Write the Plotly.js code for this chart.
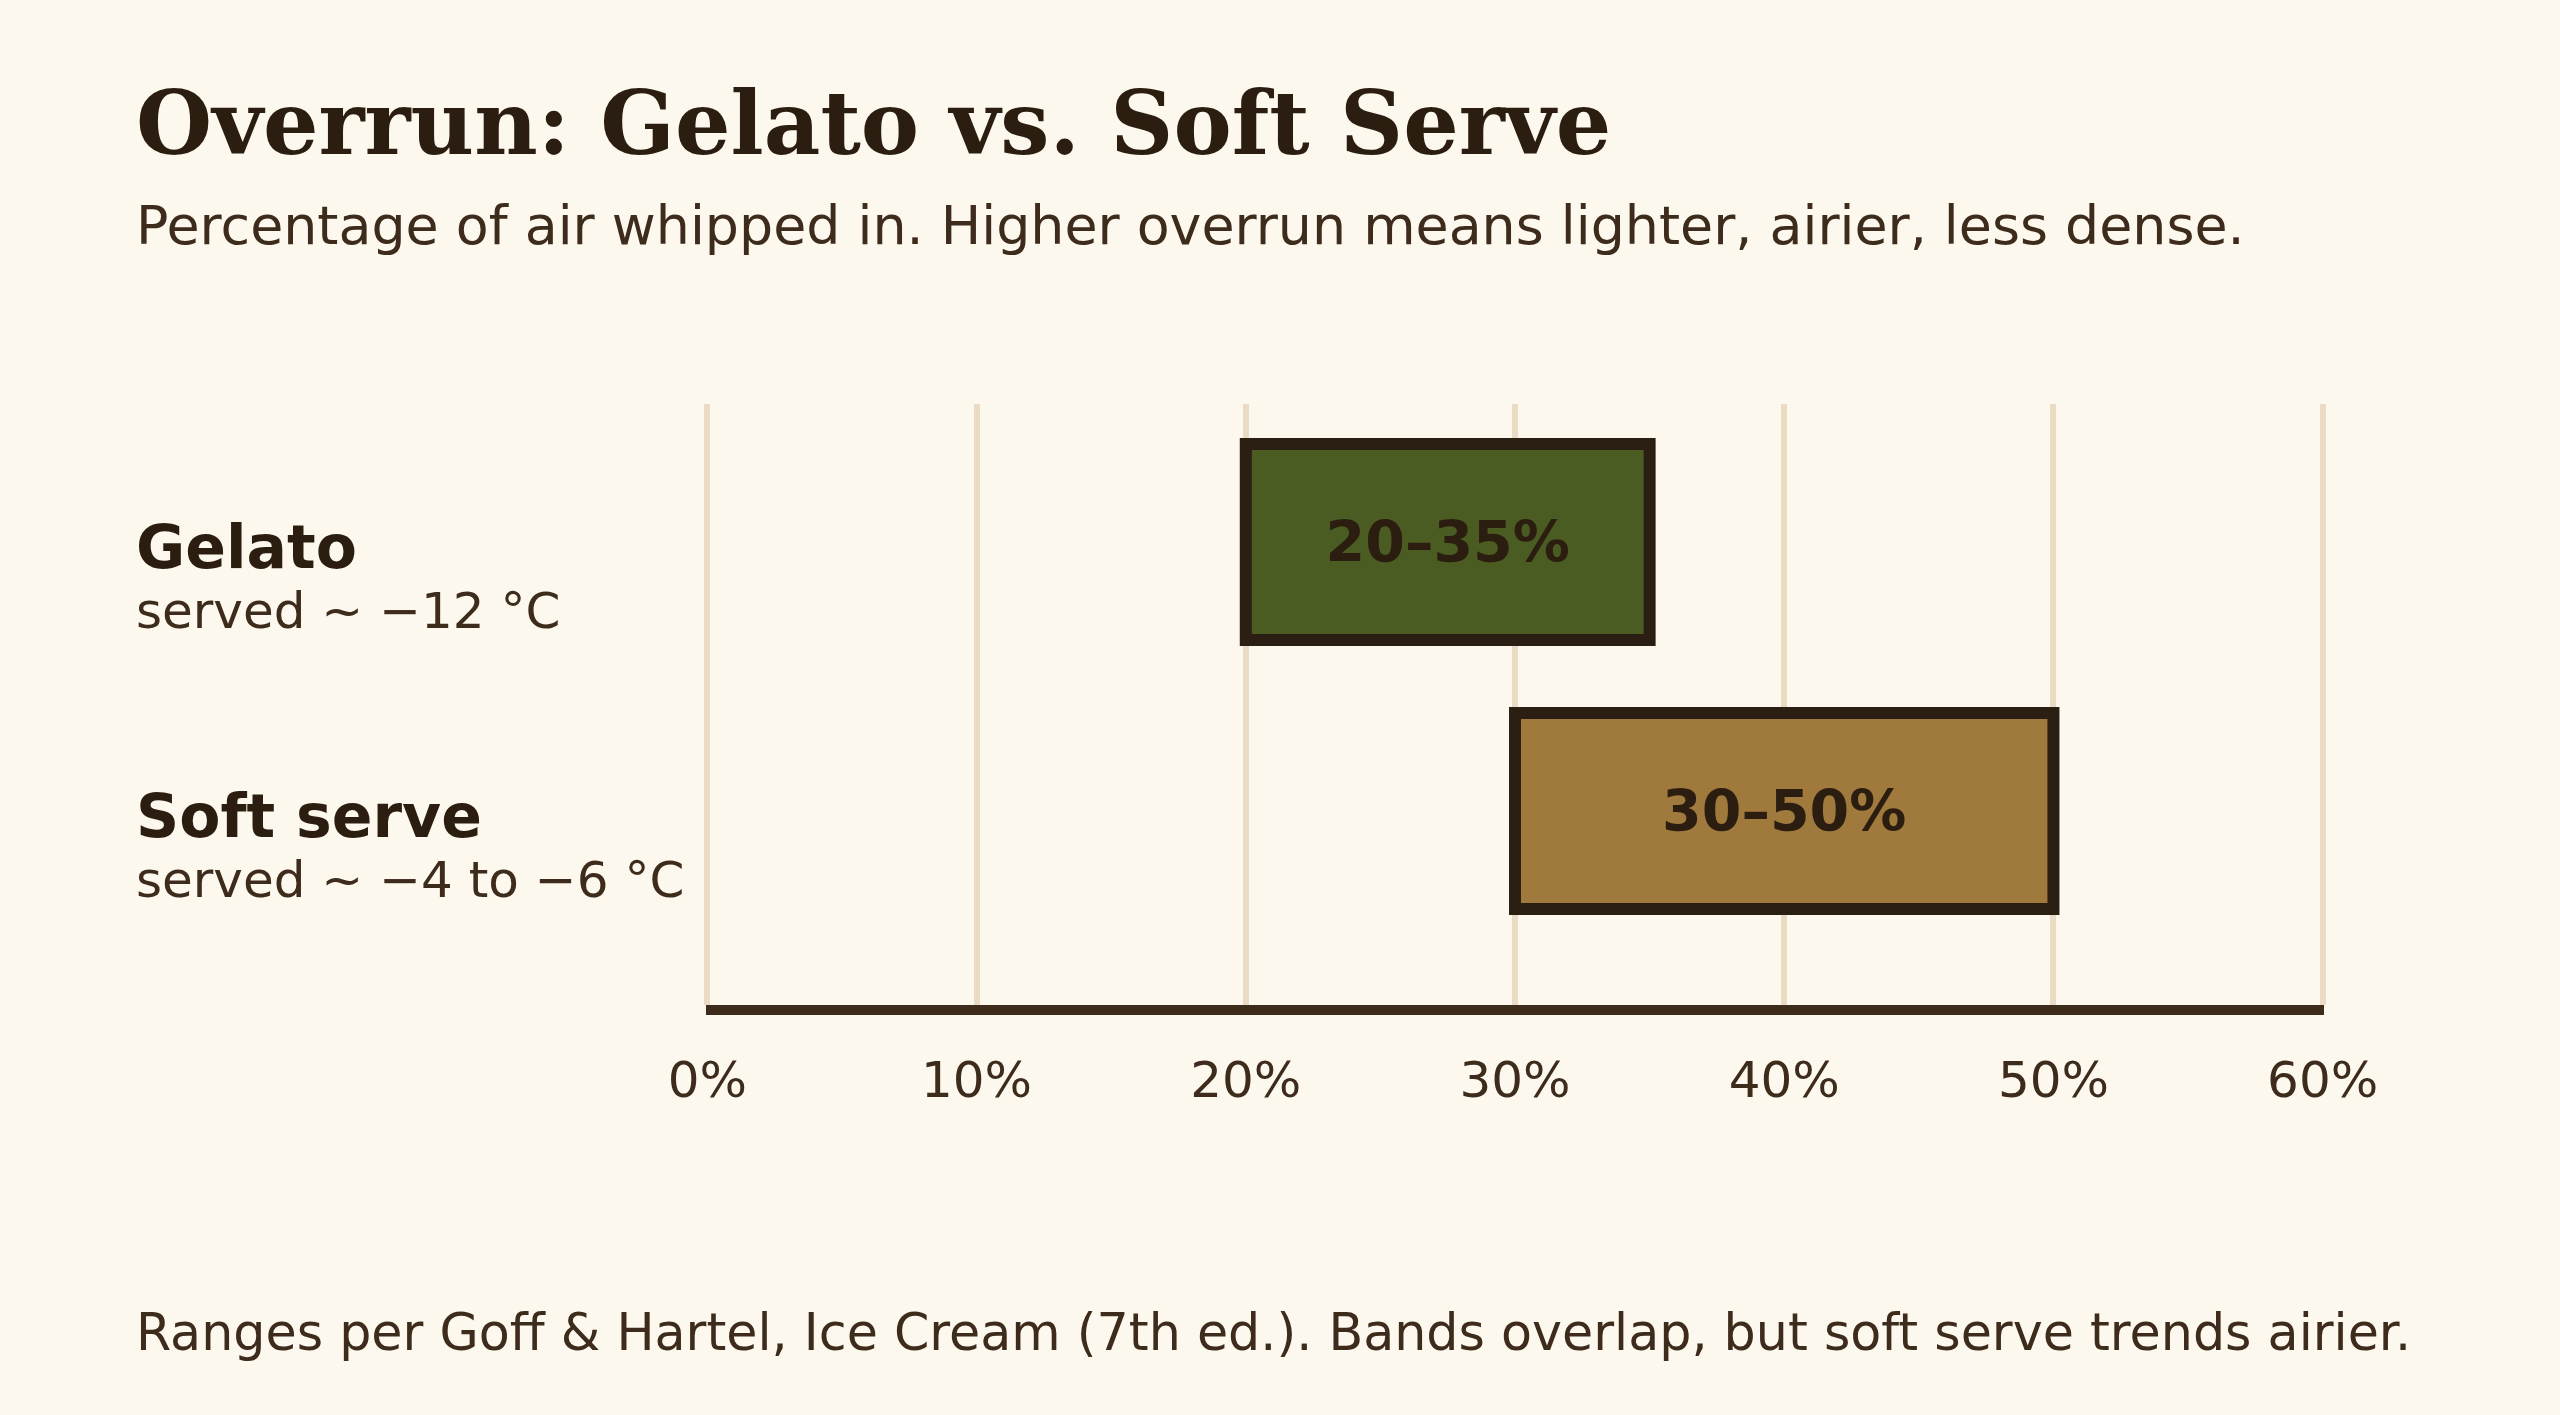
<!DOCTYPE html>
<html>
<head>
<meta charset="utf-8">
<script src="https://cdn.plot.ly/plotly-3.0.1.min.js"></script>
<style>
  html, body { margin: 0; padding: 0; background: #fcf8ed; }
  #chart { width: 2560px; height: 1415px; }
</style>
</head>
<body>
<div id="chart"></div>
<script>
// ---- data ----
const categories = ['Gelato', 'Soft serve'];
const servedNotes = ['served ~ \u221212 \u00B0C', 'served ~ \u22124 to \u22126 \u00B0C'];
const rangeLow = [20, 30];
const rangeHigh = [35, 50];
const barLabels = ['20\u201335%', '30\u201350%'];
const barColors = ['#4a5c22', '#a07a3c'];
const tickValues = [0, 10, 20, 30, 40, 50, 60];
const tickLabels = ['0%', '10%', '20%', '30%', '40%', '50%', '60%'];

const titleText = 'Overrun: Gelato vs. Soft Serve';
const subtitleText = 'Percentage of air whipped in. Higher overrun means lighter, airier, less dense.';
const footerText = 'Ranges per Goff &amp; Hartel, Ice Cream (7th ed.). Bands overlap, but soft serve trends airier.';

// ---- styles ----
const BG = '#fcf8ed';
const INK = '#2b1d10';
const INK2 = '#3d2b1c';
const SANS = 'DejaVu Sans, Verdana, sans-serif';
const SERIF = 'DejaVu Serif, Georgia, serif';

const trace = {
  type: 'bar',
  orientation: 'h',
  y: categories,
  base: rangeLow,
  x: rangeHigh.map((h, i) => h - rangeLow[i]),
  width: 0.729,
  marker: { color: barColors, line: { color: '#2b1e12', width: 12 } },
  text: barLabels,
  textposition: 'inside',
  insidetextanchor: 'middle',
  constraintext: 'none',
  textangle: 0,
  textfont: { family: SANS, size: 57, color: INK, weight: 'bold' },
  hoverinfo: 'skip',
  showlegend: false
};

const LEFT_X = -0.3535;
const annotations = [];
categories.forEach((c, i) => {
  annotations.push({
    xref: 'paper', yref: 'y', x: LEFT_X, y: c,
    xanchor: 'left', yanchor: 'middle', yshift: -5,
    showarrow: false, text: c,
    font: { family: SANS, size: 60, color: INK, weight: 'bold' }
  });
  annotations.push({
    xref: 'paper', yref: 'y', x: LEFT_X, y: c,
    xanchor: 'left', yanchor: 'middle', yshift: -69,
    showarrow: false, text: servedNotes[i],
    font: { family: SANS, size: 50, color: INK2 }
  });
});
annotations.push({
  xref: 'paper', yref: 'paper', x: LEFT_X, y: 1.4659,
  xanchor: 'left', yanchor: 'middle', showarrow: false,
  text: titleText,
  font: { family: SERIF, size: 87.4, color: INK, weight: 'bold' }
});
annotations.push({
  xref: 'paper', yref: 'paper', x: LEFT_X, y: 1.2978,
  xanchor: 'left', yanchor: 'middle', showarrow: false,
  text: subtitleText,
  font: { family: SANS, size: 53.8, color: INK2 }
});
annotations.push({
  xref: 'paper', yref: 'paper', x: LEFT_X, y: -0.5441,
  xanchor: 'left', yanchor: 'middle', showarrow: false,
  text: footerText,
  font: { family: SANS, size: 50.7, color: INK2 }
});

const layout = {
  width: 2560, height: 1415,
  paper_bgcolor: BG, plot_bgcolor: BG,
  margin: { l: 706, r: 236, t: 404, b: 410, pad: 0 },
  showlegend: false,
  xaxis: {
    range: [-0.05, 60.05],
    tickvals: tickValues, ticktext: tickLabels,
    showgrid: true, gridcolor: '#eadcc4', gridwidth: 6,
    zeroline: false,
    showline: true, linecolor: INK2, linewidth: 10,
    ticks: '', ticklabelstandoff: 22,
    tickfont: { family: SANS, size: 50, color: INK2 },
    fixedrange: true
  },
  yaxis: {
    type: 'category',
    categoryorder: 'array', categoryarray: categories,
    range: [1.721, -0.513],
    showgrid: false, zeroline: false, showline: false,
    showticklabels: false, ticks: '',
    fixedrange: true
  },
  annotations: annotations,
  font: { family: SANS, color: INK }
};

Plotly.newPlot('chart', [trace], layout, { displayModeBar: false, staticPlot: true });
</script>
</body>
</html>
